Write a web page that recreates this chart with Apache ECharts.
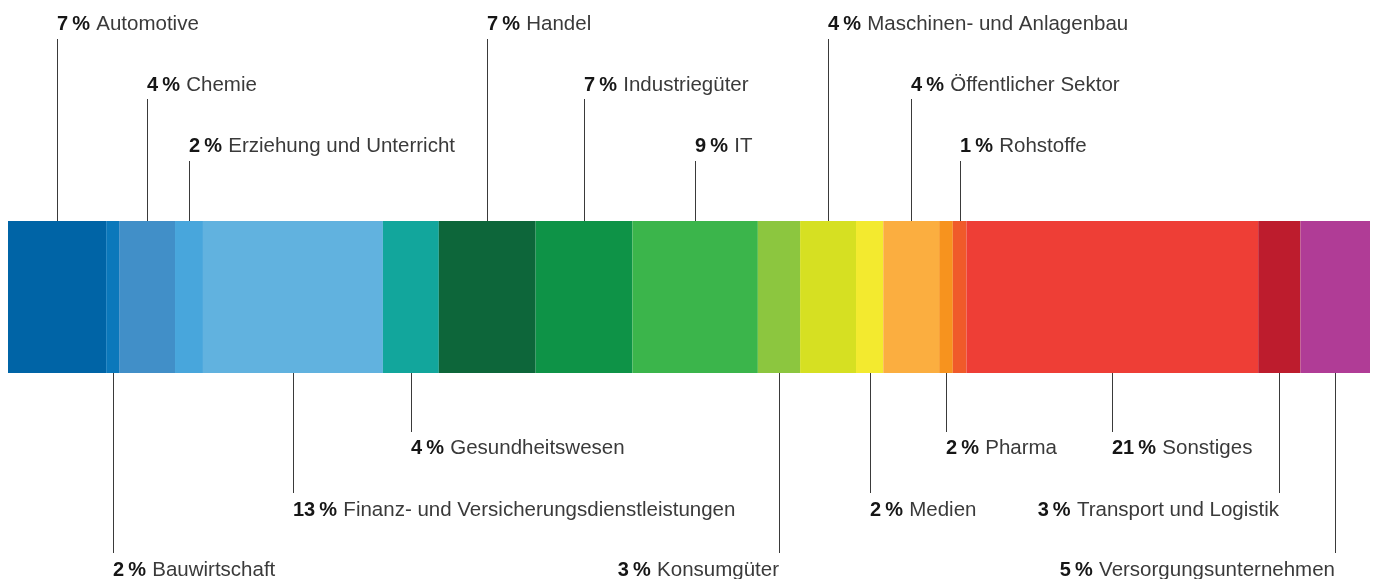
<!DOCTYPE html>
<html>
	<head>
		<meta charset="utf-8" />
		<title>Branchen</title>
		<script src="https://cdn.jsdelivr.net/npm/echarts/dist/echarts.min.js" type="text/javascript"></script>
		<style>
			body { margin: 0; background: #fff; }
		</style>
	</head>
	<body>
		<div id="main" style="width: 1375px; height: 579px;"></div>
		<script>
			// Daten
			var branchen = ['Automotive', 'Bauwirtschaft', 'Chemie', 'Erziehung und Unterricht',
				'Finanz- und Versicherungsdienstleistungen', 'Gesundheitswesen', 'Handel', 'Industriegüter',
				'IT', 'Konsumgüter', 'Maschinen- und Anlagenbau', 'Medien', 'Öffentlicher Sektor', 'Pharma',
				'Rohstoffe', 'Sonstiges', 'Transport und Logistik', 'Versorgungsunternehmen'];
			// Breite der Segmente (aus dem Bild gelesen)
			var anteile = [7.2, 0.95, 4.1, 2.05, 13.2, 4.1, 7.1, 7.1, 9.2, 3.1, 4.1, 2.0, 4.1, 1.0, 1.0, 21.4, 3.1, 5.1];
			// beschriftete Prozentwerte
			var prozente = ['7', '2', '4', '2', '13', '4', '7', '7', '9', '3', '4', '2', '4', '2', '1', '21', '3', '5'];

			// Layout / Stil
			var farben = ['#0064a6', '#0b78bb', '#418fc8', '#48a6dc', '#61b2df', '#12a69c', '#0d663a', '#0e9347',
				'#3bb54b', '#8cc63f', '#d6e022', '#f3ea2f', '#fbae40', '#f7931e', '#f05a2a', '#ee3e36', '#bd1c2d', '#b03c96'];
			// Zeile der Beschriftung: negativ = oberhalb, positiv = unterhalb
			var zeilen = [-1, 3, -2, -3, 2, 1, -1, -2, -3, 3, -1, 2, -2, 1, -3, 1, 2, 3];
			var rechts = [9, 16, 17]; // rechtsbündige Beschriftungen
			var textOben = [190, 129, 68];   // Abstand Grundlinie ueber Balken
			var linieOben = [182, 122, 60];
			var textUnten = [82, 144, 204];  // Abstand Grundlinie unter Balken
			var linieUnten = [59, 120, 180];

			var summe = 0;
			var daten = anteile.map(function(v, i) {
				var start = summe;
				summe += v;
				return [start, summe, i];
			});

			var chart = echarts.init(document.getElementById('main'));

			function renderItem(params, api) {
				var i = api.value(2);
				var p0 = api.coord([api.value(0), 1]);
				var p1 = api.coord([api.value(1), 0]);
				var x = Math.round((p0[0] + p1[0]) / 2) + 0.5;
				var z = zeilen[i];
				var y1, y2, ty;
				if (z < 0) {
					y1 = p0[1];
					y2 = p0[1] - linieOben[-z - 1];
					ty = p0[1] - textOben[-z - 1];
				} else {
					y1 = p1[1];
					y2 = p1[1] + linieUnten[z - 1];
					ty = p1[1] + textUnten[z - 1];
				}
				return {
					type: 'group',
					children: [{
						type: 'rect',
						shape: { x: p0[0], y: p0[1], width: p1[0] - p0[0], height: p1[1] - p0[1] },
						style: { fill: farben[i] }
					}, {
						type: 'line',
						shape: { x1: x, y1: y1, x2: x, y2: y2 },
						style: { stroke: '#3a3a3a', lineWidth: 1 }
					}, {
						type: 'text',
						x: x - 0.5,
						y: ty - 7,
						style: {
							text: '{p|' + prozente[i] + '\u2009%} {n|' + branchen[i] + '}',
							align: rechts.indexOf(i) >= 0 ? 'right' : 'left',
							verticalAlign: 'middle',
							rich: {
								p: { fontFamily: 'Liberation Sans', fontSize: 20, fontWeight: 'bold', fill: '#161616' },
								n: { fontFamily: 'Liberation Sans', fontSize: 20.5, fill: '#3a3a3a', padding: [0, 0, 0, 3] }
							}
						}
					}]
				};
			}

			var option = {
				animation: false,
				grid: { left: 8, right: 5, top: 221, bottom: 206 },
				xAxis: { type: 'value', min: 0, max: summe, show: false },
				yAxis: { type: 'value', min: 0, max: 1, show: false },
				series: [{
					type: 'custom',
					clip: false,
					renderItem: renderItem,
					data: daten
				}]
			};
			chart.setOption(option);
		</script>
	</body>
</html>
